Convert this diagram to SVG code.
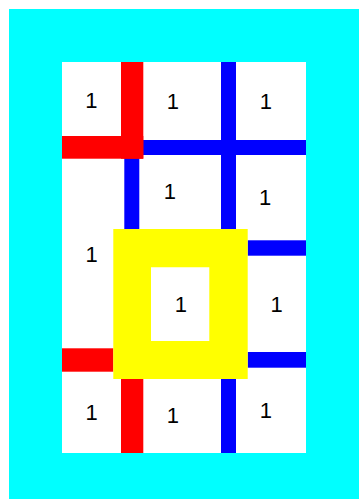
<svg xmlns="http://www.w3.org/2000/svg" width="359" height="499" viewBox="0 0 359 499">
<style>
.t{font-family:"Liberation Sans",Arial,sans-serif;font-size:22px;fill:#000;text-anchor:middle}
.r{fill:#ff0000}.b{fill:#0000ff}.y{fill:#ffff00}
</style>
<rect width="359" height="499" fill="#ffffff"/>
<g id="frame">
<rect x="9" y="9" width="350" height="490" fill="#00ffff"/>
<rect x="62" y="62" width="244" height="391" fill="#ffffff"/>
</g>
<g id="walls">
<rect class="b" x="143" y="140" width="163" height="15"/>
<rect class="b" x="221" y="62" width="15" height="167"/>
<rect class="b" x="124.3" y="155" width="15" height="74"/>
<rect class="b" x="247.7" y="240.3" width="58.3" height="15.4"/>
<rect class="b" x="247.7" y="352" width="58.3" height="15.7"/>
<rect class="b" x="221" y="379" width="15" height="74"/>
<rect class="r" x="121" y="62" width="22.3" height="96.7"/>
<rect class="r" x="62" y="136" width="81.3" height="22.7"/>
<rect class="r" x="62" y="348.3" width="51.3" height="23.4"/>
<rect class="r" x="121" y="379" width="22.3" height="74"/>
<path class="y" fill-rule="evenodd" d="M113.3 229H247.7V379H113.3Z M151 267.3V341H209.3V267.3Z"/>
</g>
<g id="cells">
<text class="t" x="91.3" y="107.5">1</text>
<text class="t" x="172.8" y="109">1</text>
<text class="t" x="265.8" y="108.5">1</text>
<text class="t" x="169.8" y="199">1</text>
<text class="t" x="265.1" y="205">1</text>
<text class="t" x="91.5" y="261.5">1</text>
<text class="t" x="180.8" y="311.7">1</text>
<text class="t" x="276.5" y="311.5">1</text>
<text class="t" x="91.5" y="420">1</text>
<text class="t" x="172.8" y="423">1</text>
<text class="t" x="265.8" y="418">1</text>
</g>
</svg>
